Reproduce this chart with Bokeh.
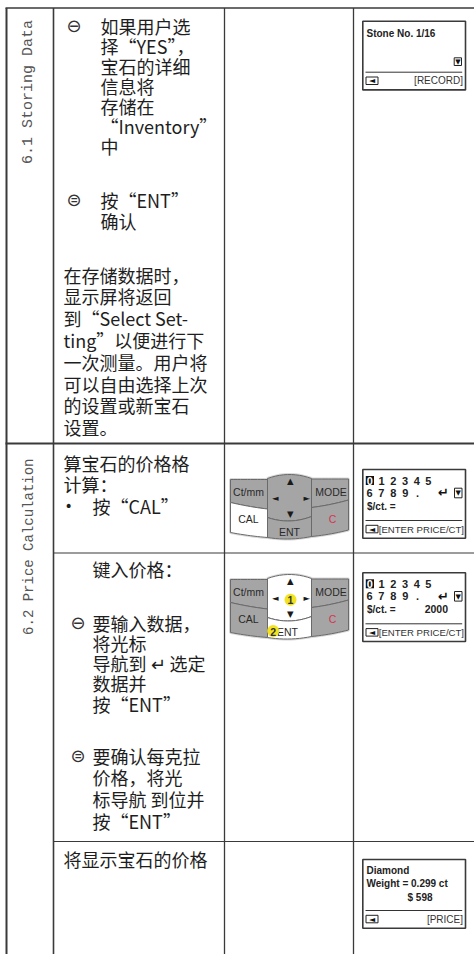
import numpy as np
from bokeh.plotting import figure
from bokeh.models import Range1d
from bokeh.core.properties import value
from bokeh.embed import file_html
from bokeh.resources import INLINE

# ---------------- content (data) ----------------
section_labels = ["6.1 Storing Data", "6.2 Price  Calculation"]
bullet_marks = ["⊖", "⊜"]

row61_bullet1_lines = ["如果用户选", "择“YES”，", "宝石的详细", "信息将", "存储在", "“Inventory”", "中"]
row61_bullet2_lines = ["按“ENT”", "确认"]
row61_note_lines = ["在存储数据时，", "显示屏将返回", "到“Select Set-", "ting”以便进行下",
                    "一次测量。用户将", "可以自由选择上次", "的设置或新宝石", "设置。"]
row62a_lines = ["算宝石的价格格", "计算："]
row62a_item = ["•", "按“CAL”"]
row62b_title = "键入价格："
row62b_bullet1_lines = ["要输入数据，", "将光标", "导航到 ↵ 选定", "数据并", "按“ENT”"]
row62b_bullet2_lines = ["要确认每克拉", "价格，将光", "标导航 到位并", "按“ENT”"]
row62c_line = "将显示宝石的价格"

keypad_keys = ["Ct/mm", "MODE", "CAL", "C", "ENT"]
keypad_arrows = ["▲", "◄", "►", "▼"]
keypad_steps = ["1", "2"]

lcd_record_lines = ["Stone No.  1/16"]
lcd_record_footer = "[RECORD]"
lcd_digits_row1 = ["0", "1", "2", "3", "4", "5"]
lcd_digits_row2 = ["6", "7", "8", "9", "."]
lcd_enter_mark = "↵"
lcd_price_label = "$/ct. ="
lcd_price_values = ["", "2000"]
lcd_price_footer = "[ENTER PRICE/CT]"
lcd_result_lines = ["Diamond", "Weight =  0.299 ct", "$ 598"]
lcd_result_footer = "[PRICE]"

# ---------------- figure ----------------
FW, FH = 474, 954
p = figure(width=FW, height=FH, x_range=Range1d(0, FW), y_range=Range1d(FH, 0),
           output_backend="svg", toolbar_location=None, min_border=0)
p.xaxis.visible = False
p.yaxis.visible = False
p.xgrid.visible = False
p.ygrid.visible = False
p.outline_line_color = None
p.background_fill_color = "white"
p.border_fill_color = "white"

CJK = "Noto Sans CJK SC"
SANS = "Liberation Sans"
LINE = "#3a3a3a"


def txt(xs, ys, texts, font, size, color="#1e1e1e", align="left", baseline="middle",
        angle=0.0, style="normal"):
    p.text(x=list(xs), y=list(ys), text=list(texts), text_font=value(font),
           text_font_size=size, text_color=color, text_align=align,
           text_baseline=baseline, angle=angle, text_font_style=style)


# ---------------- table grid ----------------
p.segment(x0=[5, 5, 53, 53], y0=[7.5, 443, 552.5, 841],
          x1=[FW, FW, FW, FW], y1=[7.5, 443, 552.5, 841],
          line_color=LINE, line_width=[1.6, 2.0, 1.2, 1.2])
p.segment(x0=[6, 53, 224, 353], y0=[7.5] * 4, x1=[6, 53, 224, 353], y1=[FH] * 4,
          line_color=LINE, line_width=[2.0, 1.6, 1.3, 1.3])

# ---------------- section labels (vertical) ----------------
txt([27.5], [91.5], [section_labels[0]], "Liberation Mono", "15px", color="#555",
    align="center", angle=np.pi / 2)
txt([28.5], [542], [section_labels[1]], "Liberation Mono", "14px", color="#555",
    align="center", angle=np.pi / 2)


# ---------------- column 2 text ----------------
def block(lines, x, y0, step):
    ys = [y0 + i * step for i in range(len(lines))]
    txt([x] * len(lines), ys, lines, CJK, "18px")


block(row61_bullet1_lines, 100, 25, 20)
block(row61_bullet2_lines, 100, 199, 21)
block(row61_note_lines, 63, 274, 21.8)
txt([66, 66], [25, 199], bullet_marks, "DejaVu Sans", "18px", color="#333")

block(row62a_lines, 63, 462, 21.5)
txt([64], [505], [row62a_item[0]], "DejaVu Sans", "14px")
txt([92], [505], [row62a_item[1]], CJK, "18px")

txt([92], [568], [row62b_title], CJK, "18px")
block(row62b_bullet1_lines, 92, 622, 20.3)
block(row62b_bullet2_lines, 92, 755, 21.7)
txt([70, 70], [622, 755], bullet_marks, "DejaVu Sans", "18px", color="#333")

txt([63], [858], [row62c_line], CJK, "18px")


# ---------------- keypads ----------------
def bez(p0, p1, p2, n=12):
    p0, p1, p2 = np.array(p0, float), np.array(p1, float), np.array(p2, float)
    c = 2 * p1 - 0.5 * (p0 + p2)
    t = np.linspace(0, 1, n)[:, None]
    return (1 - t) ** 2 * p0 + 2 * (1 - t) * t * c + t ** 2 * p2


KEY_SHAPES = {
    "Ct/mm": [[(0, 5), (18.5, 5), (37, 5)], [(37, 34.5), (18.5, 31.8), (0, 28)]],
    "pad": [[(37, 4), (59, 0), (81, 4)], [(81, 42), (59, 46.5), (37, 43)]],
    "MODE": [[(81, 4.5), (99.5, 4.5), (118, 4.5)], [(118, 25.5), (99.5, 30), (81, 33)]],
    "CAL": [[(0, 28), (18.5, 31.8), (37, 34.5)], [(37, 63), (18.5, 61), (0, 58)]],
    "ENT": [[(37, 43), (59, 46.5), (81, 42)], [(81, 62), (59, 64.5), (37, 63)]],
    "C": [[(81, 33), (99.5, 30), (118, 25.5)], [(118, 55.5), (99.5, 59.5), (81, 62)]],
}


def keypad(kx, ky, white_keys, step_marks):
    xs, ys, fills = [], [], []
    for name, (top, bottom) in KEY_SHAPES.items():
        pts = np.vstack([bez(*top), bez(*bottom)])
        xs.append(list(kx + pts[:, 0]))
        ys.append(list(ky + pts[:, 1]))
        fills.append("#ffffff" if name in white_keys else "#a5a5a5")
    p.patches(xs=xs, ys=ys, fill_color=fills, line_color="#d8d8d8", line_width=3)
    p.patches(xs=xs, ys=ys, fill_color=fills, line_color="#6a6a6a", line_width=1)
    ent_dx = -2 if step_marks else 0
    lx = [18, 100.5, 18, 102, 59 + ent_dx]
    ly = [17, 17, 44.5, 44, 57.5]
    colors = ["#2a2a2a", "#2a2a2a", "#2a2a2a", "#d8344e", "#2a2a2a"]
    txt([kx + v for v in lx], [ky + v for v in ly], keypad_keys, SANS, "10.5px",
        color=colors, align="center")
    if step_marks:
        p.circle(x=[kx + 60, kx + 42.7], y=[ky + 25.3, ky + 56.5], radius=6,
                 fill_color="#f3e31f", line_color=None)
        txt([kx + 60, kx + 42.7], [ky + 25.8, ky + 57], keypad_steps, SANS, "10.5px",
            color="#333", align="center", style="bold")
    ax = [59.7, 44.7, 76.3, 59.7]
    ay = [6.5, 23.3, 23, 39.3]
    txt([kx + v for v in ax], [ky + v for v in ay], keypad_arrows, "DejaVu Sans", "8.5px",
        color="#1a1a1a", align="center")


keypad(230, 474, {"CAL"}, False)
keypad(230, 574, {"pad", "ENT"}, True)

# ---------------- LCD displays ----------------
LCD_L, LCD_R = 362.3, 465


def lcd_frame(top, footer, footer_align="right"):
    p.quad(left=LCD_L, right=LCD_R, top=top, bottom=top + 68.7, fill_color="white",
           line_color="#3a3a3a", line_width=1.6)
    p.segment(x0=365, y0=top + 51, x1=461.7, y1=top + 51, line_color="#333", line_width=1)
    p.quad(left=365.5, right=377.5, top=top + 55.8, bottom=top + 63.3, fill_color="white",
           line_color="#222", line_width=1)
    txt([371.5], [top + 59.6], ["◄"], "DejaVu Sans", "8px", color="#111", align="center")
    if footer_align == "right":
        txt([462.5], [top + 59.5], [footer], SANS, "10px", color="#333", align="right")
    else:
        txt([463.5], [top + 59.5], [footer], SANS, "9.6px", color="#333", align="right")


def down_box(x0, x1, y0, y1):
    p.quad(left=x0, right=x1, top=y0, bottom=y1, fill_color="white", line_color="#222",
           line_width=1)
    txt([(x0 + x1) / 2], [(y0 + y1) / 2 + 0.3], ["▼"], "DejaVu Sans", "7px", color="#111",
        align="center")


# LCD 1: record
t1 = 20.7
lcd_frame(t1, lcd_record_footer)
txt([366], [t1 + 12.5], lcd_record_lines, SANS, "10px", color="#222", style="bold")
down_box(453.7, 461, t1 + 36.6, t1 + 44.3)


# LCD 2 & 3: price entry
def price_lcd(top, val):
    lcd_frame(top, lcd_price_footer, footer_align="left")
    p.quad(left=365.3, right=373.5, top=top + 6.5, bottom=top + 15.5, fill_color="#111",
           line_color=None)
    xs1 = [369.4 + 11.7 * i for i in range(len(lcd_digits_row1))]
    cols = ["white"] + ["#222"] * (len(lcd_digits_row1) - 1)
    txt(xs1, [top + 11.2] * len(xs1), lcd_digits_row1, SANS, "11px", color=cols,
        align="center", style="bold")
    xs2 = [369.0 + 11.9 * i for i in range(4)] + [417]
    txt(xs2, [top + 23.5] * len(xs2), lcd_digits_row2, SANS, "11px", color="#222",
        align="center", style="bold")
    txt([443], [top + 23.2], [lcd_enter_mark], "DejaVu Sans", "13px", color="#111",
        align="center", style="bold")
    down_box(454, 461.5, top + 18.7, top + 28.3)
    txt([366.5], [top + 36.5], [lcd_price_label], SANS, "10px", color="#222", style="bold")
    txt([447.5], [top + 36.5], [val], SANS, "10.5px", color="#222", align="right",
        style="bold")


price_lcd(469, lcd_price_values[0])
price_lcd(572.3, lcd_price_values[1])

# LCD 4: result
t4 = 859
lcd_frame(t4, lcd_result_footer)
txt([366, 366, 407], [t4 + 11, t4 + 24.3, t4 + 37.7], lcd_result_lines, SANS, "10px",
    color="#222", style="bold")

open("out.html", "w").write(file_html(p, INLINE))
